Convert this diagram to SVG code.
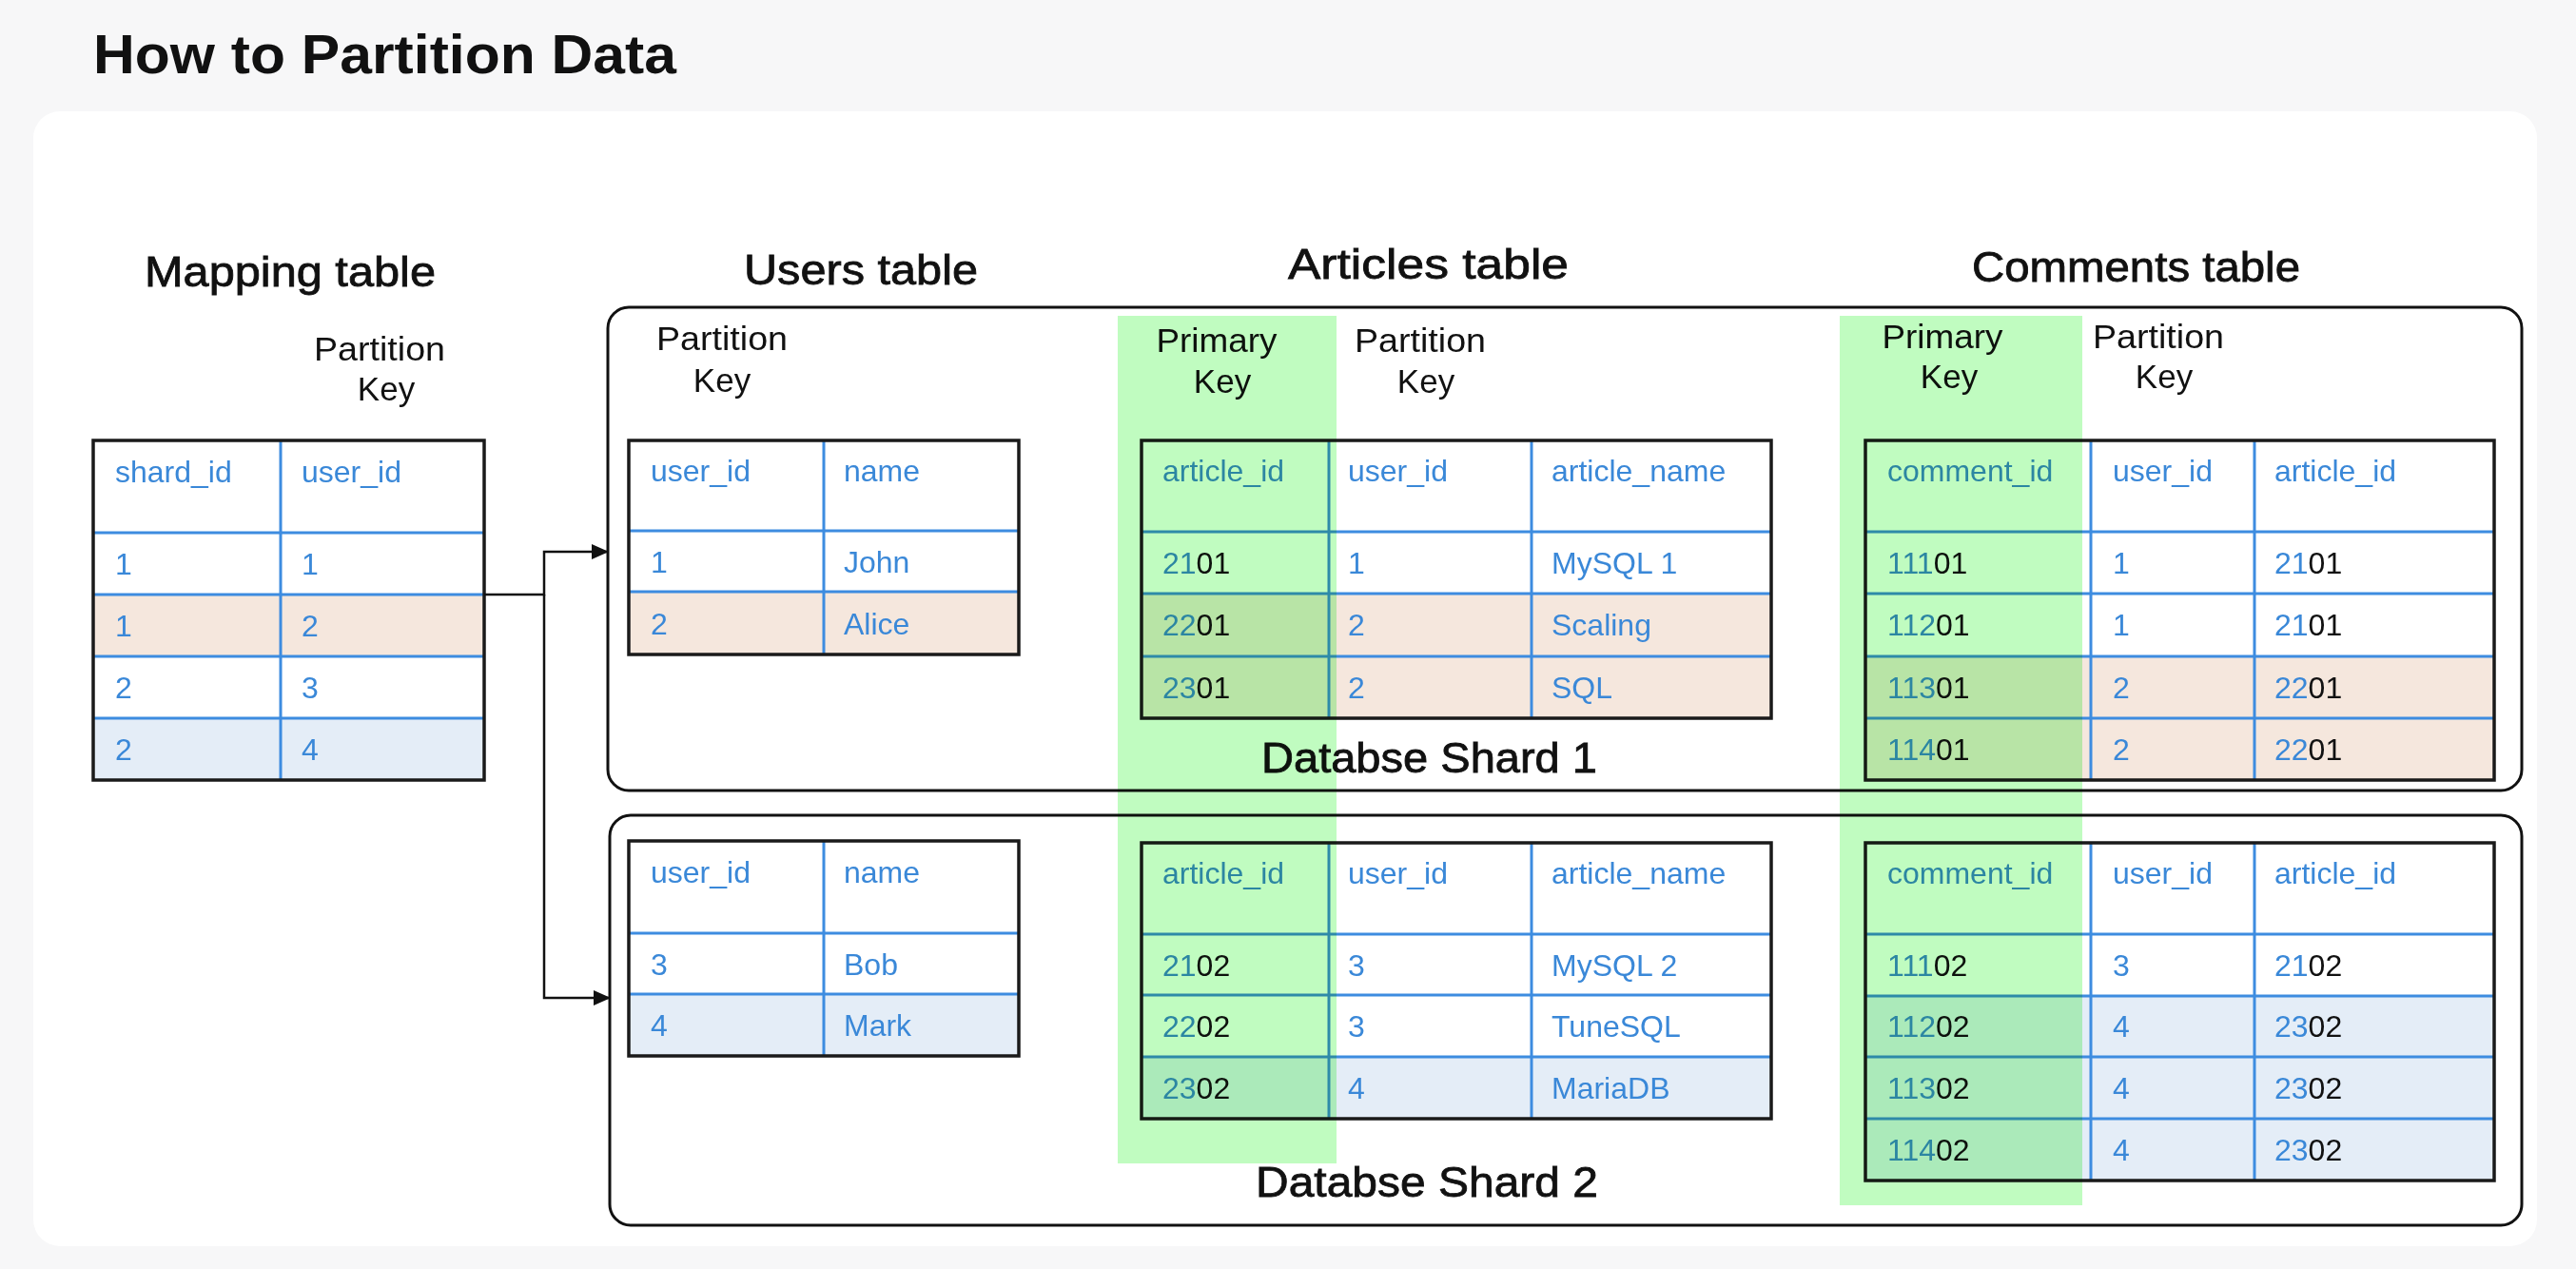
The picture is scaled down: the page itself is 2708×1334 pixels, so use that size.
<svg xmlns="http://www.w3.org/2000/svg" width="2708" height="1334" viewBox="0 0 2708 1334">
<style>
.bg{fill:#f7f7f8}
.panel{fill:#ffffff}
.shard{fill:none;stroke:#111;stroke-width:3}
.frame{fill:none;stroke:#1a1a1a;stroke-width:3.5}
.grid{stroke:#3d8ce0;stroke-width:3}
.wh{fill:#ffffff}
.pe{fill:#f5e7dd}
.lb{fill:#e4edf7}
.c{font-family:"Liberation Sans","DejaVu Sans",sans-serif;font-size:32px;fill:#3a88d8}
.k{fill:#111}
.hd{font-family:"Liberation Sans","DejaVu Sans",sans-serif;font-size:44px;fill:#111;stroke:#111;stroke-width:0.8}
.lbl{font-family:"Liberation Sans","DejaVu Sans",sans-serif;font-size:35px;fill:#111;text-anchor:middle}
.title{font-family:"Liberation Sans","DejaVu Sans",sans-serif;font-size:58px;font-weight:bold;fill:#111}
.green{fill:#c0fcc0;mix-blend-mode:multiply}
.conn{fill:none;stroke:#111;stroke-width:2.5}
</style>
<defs>
<marker id="arr" markerUnits="userSpaceOnUse" markerWidth="18" markerHeight="16" refX="17" refY="8" orient="auto">
<path d="M0,0 L18,8 L0,16 Z" fill="#111"/>
</marker>
</defs>
<rect class="bg" x="0" y="0" width="2708" height="1334"/>
<rect class="panel" x="35" y="117" width="2632" height="1193" rx="28"/>
<text class="title" x="98" y="77" textLength="613" lengthAdjust="spacingAndGlyphs">How to Partition Data</text>

<g id="headings">
<text class="hd" x="152" y="301" textLength="306" lengthAdjust="spacingAndGlyphs">Mapping table</text>
<text class="hd" x="782" y="299" textLength="246" lengthAdjust="spacingAndGlyphs">Users table</text>
<text class="hd" x="1354" y="293" textLength="295" lengthAdjust="spacingAndGlyphs">Articles table</text>
<text class="hd" x="2073" y="296" textLength="345" lengthAdjust="spacingAndGlyphs">Comments table</text>
</g>

<g id="shard1">
<rect class="shard" x="639" y="323" width="2012" height="508" rx="22"/>
<text class="hd" x="1326" y="812" textLength="353" lengthAdjust="spacingAndGlyphs">Databse Shard 1</text>
</g>
<g id="shard2">
<rect class="shard" x="641" y="857" width="2010" height="431" rx="22"/>
<text class="hd" x="1320" y="1258" textLength="360" lengthAdjust="spacingAndGlyphs">Databse Shard 2</text>
</g>

<g id="mapping-table">
<text class="lbl" x="399" y="379" textLength="138" lengthAdjust="spacingAndGlyphs">Partition</text>
<text class="lbl" x="406" y="421">Key</text>
<rect class="wh" x="98" y="463" width="411" height="357"/>
<rect class="pe" x="98" y="625" width="411" height="65"/>
<rect class="lb" x="98" y="755" width="411" height="65"/>
<path class="grid" d="M295,463V820M98,560H509M98,625H509M98,690H509M98,755H509"/>
<rect class="frame" x="98" y="463" width="411" height="357"/>
<text class="c" x="121" y="507">shard_id</text><text class="c" x="317" y="507">user_id</text>
<text class="c" x="121" y="604">1</text><text class="c" x="317" y="604">1</text>
<text class="c" x="121" y="669">1</text><text class="c" x="317" y="669">2</text>
<text class="c" x="121" y="734">2</text><text class="c" x="317" y="734">3</text>
<text class="c" x="121" y="799">2</text><text class="c" x="317" y="799">4</text>
</g>

<g id="users-shard1">
<text class="lbl" x="759" y="368" textLength="138" lengthAdjust="spacingAndGlyphs">Partition</text>
<text class="lbl" x="759" y="412">Key</text>
<rect class="wh" x="661" y="463" width="410" height="225"/>
<rect class="pe" x="661" y="622" width="410" height="66"/>
<path class="grid" d="M866,463V688M661,558H1071M661,622H1071"/>
<rect class="frame" x="661" y="463" width="410" height="225"/>
<text class="c" x="684" y="506">user_id</text><text class="c" x="887" y="506">name</text>
<text class="c" x="684" y="602">1</text><text class="c" x="887" y="602">John</text>
<text class="c" x="684" y="667">2</text><text class="c" x="887" y="667">Alice</text>
</g>

<g id="users-shard2">
<rect class="wh" x="661" y="884" width="410" height="226"/>
<rect class="lb" x="661" y="1045" width="410" height="65"/>
<path class="grid" d="M866,884V1110M661,981H1071M661,1045H1071"/>
<rect class="frame" x="661" y="884" width="410" height="226"/>
<text class="c" x="684" y="928">user_id</text><text class="c" x="887" y="928">name</text>
<text class="c" x="684" y="1025">3</text><text class="c" x="887" y="1025">Bob</text>
<text class="c" x="684" y="1089">4</text><text class="c" x="887" y="1089">Mark</text>
</g>

<g id="articles-shard1">
<text class="lbl" x="1279" y="370" textLength="127" lengthAdjust="spacingAndGlyphs">Primary</text>
<text class="lbl" x="1285" y="413">Key</text>
<text class="lbl" x="1493" y="370" textLength="138" lengthAdjust="spacingAndGlyphs">Partition</text>
<text class="lbl" x="1499" y="413">Key</text>
<rect class="wh" x="1200" y="463" width="662" height="292"/>
<rect class="pe" x="1200" y="624" width="662" height="131"/>
<path class="grid" d="M1397,463V755M1610,463V755M1200,559H1862M1200,624H1862M1200,690H1862"/>
<rect class="frame" x="1200" y="463" width="662" height="292"/>
<text class="c" x="1222" y="506">article_id</text><text class="c" x="1417" y="506">user_id</text><text class="c" x="1631" y="506">article_name</text>
<text class="c" x="1222" y="603">21<tspan class="k">01</tspan></text><text class="c" x="1417" y="603">1</text><text class="c" x="1631" y="603">MySQL 1</text>
<text class="c" x="1222" y="668">22<tspan class="k">01</tspan></text><text class="c" x="1417" y="668">2</text><text class="c" x="1631" y="668">Scaling</text>
<text class="c" x="1222" y="734">23<tspan class="k">01</tspan></text><text class="c" x="1417" y="734">2</text><text class="c" x="1631" y="734">SQL</text>
</g>

<g id="articles-shard2">
<rect class="wh" x="1200" y="886" width="662" height="290"/>
<rect class="lb" x="1200" y="1111" width="662" height="65"/>
<path class="grid" d="M1397,886V1176M1610,886V1176M1200,982H1862M1200,1046H1862M1200,1111H1862"/>
<rect class="frame" x="1200" y="886" width="662" height="290"/>
<text class="c" x="1222" y="929">article_id</text><text class="c" x="1417" y="929">user_id</text><text class="c" x="1631" y="929">article_name</text>
<text class="c" x="1222" y="1026">21<tspan class="k">02</tspan></text><text class="c" x="1417" y="1026">3</text><text class="c" x="1631" y="1026">MySQL 2</text>
<text class="c" x="1222" y="1090">22<tspan class="k">02</tspan></text><text class="c" x="1417" y="1090">3</text><text class="c" x="1631" y="1090">TuneSQL</text>
<text class="c" x="1222" y="1155">23<tspan class="k">02</tspan></text><text class="c" x="1417" y="1155">4</text><text class="c" x="1631" y="1155">MariaDB</text>
</g>

<g id="comments-shard1">
<text class="lbl" x="2042" y="366" textLength="127" lengthAdjust="spacingAndGlyphs">Primary</text>
<text class="lbl" x="2049" y="408">Key</text>
<text class="lbl" x="2269" y="366" textLength="138" lengthAdjust="spacingAndGlyphs">Partition</text>
<text class="lbl" x="2275" y="408">Key</text>
<rect class="wh" x="1961" y="463" width="661" height="357"/>
<rect class="pe" x="1961" y="690" width="661" height="130"/>
<path class="grid" d="M2198,463V820M2370,463V820M1961,559H2622M1961,624H2622M1961,690H2622M1961,755H2622"/>
<rect class="frame" x="1961" y="463" width="661" height="357"/>
<text class="c" x="1984" y="506">comment_id</text><text class="c" x="2221" y="506">user_id</text><text class="c" x="2391" y="506">article_id</text>
<text class="c" x="1984" y="603">111<tspan class="k">01</tspan></text><text class="c" x="2221" y="603">1</text><text class="c" x="2391" y="603">21<tspan class="k">01</tspan></text>
<text class="c" x="1984" y="668">112<tspan class="k">01</tspan></text><text class="c" x="2221" y="668">1</text><text class="c" x="2391" y="668">21<tspan class="k">01</tspan></text>
<text class="c" x="1984" y="734">113<tspan class="k">01</tspan></text><text class="c" x="2221" y="734">2</text><text class="c" x="2391" y="734">22<tspan class="k">01</tspan></text>
<text class="c" x="1984" y="799">114<tspan class="k">01</tspan></text><text class="c" x="2221" y="799">2</text><text class="c" x="2391" y="799">22<tspan class="k">01</tspan></text>
</g>

<g id="comments-shard2">
<rect class="wh" x="1961" y="886" width="661" height="355"/>
<rect class="lb" x="1961" y="1047" width="661" height="194"/>
<path class="grid" d="M2198,886V1241M2370,886V1241M1961,982H2622M1961,1047H2622M1961,1111H2622M1961,1176H2622"/>
<rect class="frame" x="1961" y="886" width="661" height="355"/>
<text class="c" x="1984" y="929">comment_id</text><text class="c" x="2221" y="929">user_id</text><text class="c" x="2391" y="929">article_id</text>
<text class="c" x="1984" y="1026">111<tspan class="k">02</tspan></text><text class="c" x="2221" y="1026">3</text><text class="c" x="2391" y="1026">21<tspan class="k">02</tspan></text>
<text class="c" x="1984" y="1090">112<tspan class="k">02</tspan></text><text class="c" x="2221" y="1090">4</text><text class="c" x="2391" y="1090">23<tspan class="k">02</tspan></text>
<text class="c" x="1984" y="1155">113<tspan class="k">02</tspan></text><text class="c" x="2221" y="1155">4</text><text class="c" x="2391" y="1155">23<tspan class="k">02</tspan></text>
<text class="c" x="1984" y="1220">114<tspan class="k">02</tspan></text><text class="c" x="2221" y="1220">4</text><text class="c" x="2391" y="1220">23<tspan class="k">02</tspan></text>
</g>

<g id="primary-key-highlights">
<rect class="green" x="1175" y="332" width="230" height="891"/>
<rect class="green" x="1934" y="332" width="255" height="935"/>
</g>

<g id="connectors">
<path class="conn" d="M509,625H572V580H639" marker-end="url(#arr)"/>
<path class="conn" d="M572,625V1049H641" marker-end="url(#arr)"/>
</g>
</svg>
